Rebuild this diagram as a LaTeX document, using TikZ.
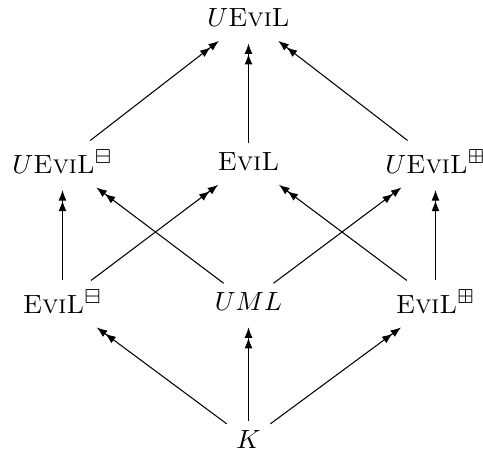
\documentclass[tikz,border=0pt]{standalone}
\usepackage{amssymb}
\usetikzlibrary{arrows.meta}
\newcommand{\evil}{\textsc{EviL}}
\begin{document}
\begin{tikzpicture}[x=0.38pt,y=-0.38pt,
  lbl/.style={inner sep=3.5pt},
  arr/.style={-{Latex[length=4pt,width=3pt]Latex[length=4pt,width=3pt]},line width=0.4pt,shorten >=2.5pt}]
\useasboundingbox (0,0) rectangle (483,463);
\node[lbl] (top) at (248.5,18) {$U$\evil};
\node[lbl] (ml) at (62.5,162) {$U$\evil$^{\boxminus}$};
\node[lbl] (mm) at (248.5,162) {\evil};
\node[lbl] (mr) at (435.5,162) {$U$\evil$^{\boxplus}$};
\node[lbl] (bl) at (62.5,302) {\evil$^{\boxminus}$};
\node[lbl] (bm) at (248.5,302) {$UML$};
\node[lbl] (br) at (435.5,302) {\evil$^{\boxplus}$};
\node[lbl] (k) at (248.5,440) {$K$};
\draw[arr] (k) -- (bl);
\draw[arr] (k) -- (bm);
\draw[arr] (k) -- (br);
\draw[arr] (bl) -- (ml);
\draw[arr] (bl) -- (mm);
\draw[arr] (bm) -- (ml);
\draw[arr] (bm) -- (mr);
\draw[arr] (br) -- (mm);
\draw[arr] (br) -- (mr);
\draw[arr] (ml) -- (top);
\draw[arr] (mm) -- (top);
\draw[arr] (mr) -- (top);
\end{tikzpicture}
\end{document}
